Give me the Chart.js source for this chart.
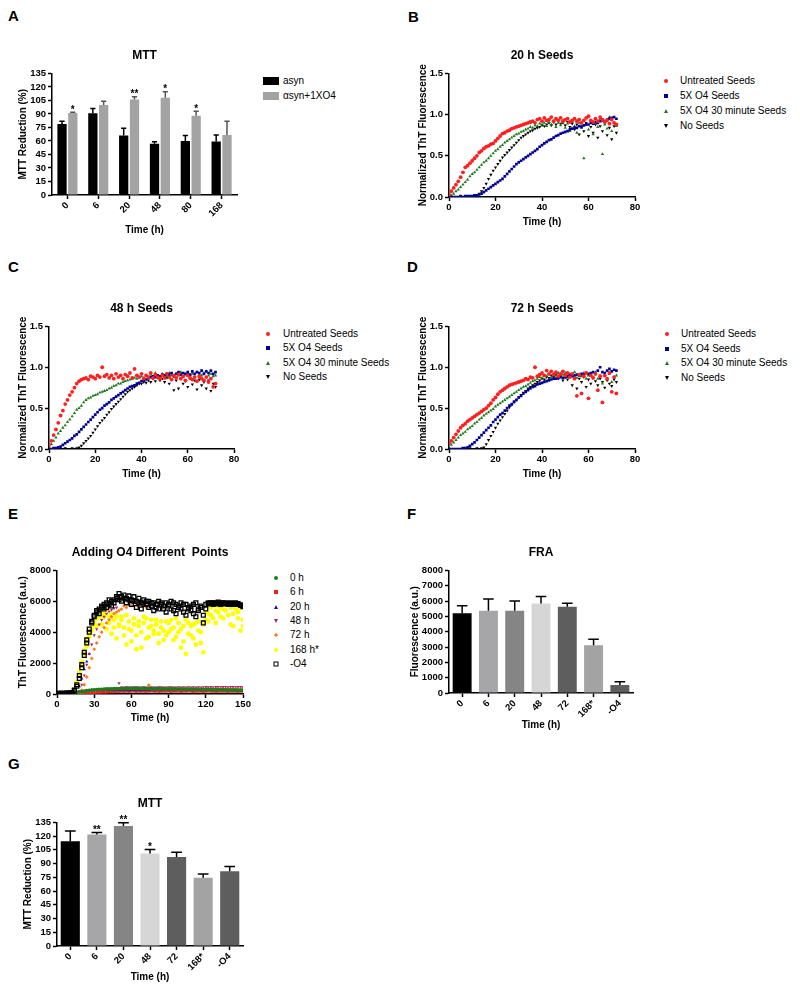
<!DOCTYPE html>
<html>
<head>
<meta charset="utf-8">
<script src="https://cdn.jsdelivr.net/npm/chart.js@4"></script>
<style>
  body { margin: 0; width: 800px; height: 993px; position: relative; background: #fff;
         font-family: "Liberation Sans", Arial, sans-serif; overflow: hidden; }
  canvas { position: absolute; }
  .tag { position: absolute; font-size: 15px; font-weight: bold; line-height: 15px; }
  .lt { position: absolute; font-size: 10px; line-height: 12px; white-space: nowrap; }
  .mk { position: absolute; transform: translate(-50%, -50%); }
  .circle { width: 4px; height: 4px; border-radius: 50%; background: var(--c); }
  .rect { width: 4px; height: 4px; background: var(--c); }
  .tri { width: 0; height: 0; border-left: 2.5px solid transparent; border-right: 2.5px solid transparent; border-bottom: 4px solid var(--c); }
  .itri { width: 0; height: 0; border-left: 2.5px solid transparent; border-right: 2.5px solid transparent; border-top: 4px solid var(--c); }
  .dia { width: 3px; height: 3px; background: var(--c); transform: translate(-50%, -50%) rotate(45deg); }
  .open { width: 3px; height: 3px; border: 1.2px solid var(--c); }
  .bar { width: 16px; height: 8px; background: var(--c); }
</style>
</head>
<body>
<div class="tag" style="left:8px;top:8px">A</div>
<div class="tag" style="left:408px;top:9px">B</div>
<div class="tag" style="left:8px;top:259px">C</div>
<div class="tag" style="left:407px;top:259px">D</div>
<div class="tag" style="left:8px;top:506px">E</div>
<div class="tag" style="left:407px;top:506px">F</div>
<div class="tag" style="left:8px;top:756px">G</div>

<canvas id="chartA" width="235" height="196" style="left:10px;top:44px"></canvas>
<canvas id="chartB" width="235" height="188" style="left:410px;top:44px"></canvas>
<canvas id="chartC" width="234" height="187" style="left:10px;top:297px"></canvas>
<canvas id="chartD" width="235" height="187" style="left:410px;top:297px"></canvas>
<canvas id="chartE" width="243" height="187" style="left:10px;top:541px"></canvas>
<canvas id="chartF" width="239" height="194" style="left:402px;top:541px"></canvas>
<canvas id="chartG" width="241" height="195" style="left:10px;top:792px"></canvas>

<script>
// ---- A : MTT, asyn vs asyn + 1X O4
const aTimes = ['0', '6', '20', '48', '80', '168'];
const aAsyn = [78.7, 90.7, 66, 57, 60, 59.5];
const aAsynErr = [3.3, 5.3, 8, 2, 6, 7];
const aO4 = [91, 100, 106, 108, 88, 66.5];
const aO4Err = [1, 4, 3, 6.5, 5, 15.5];
const aO4Stars = ['*', '', '**', '*', '*', ''];
const aLabels = ['asyn', '\u03b1syn+1XO4'];

// ---- B, C, D : seeding kinetics (normalized ThT)
const seedLabels = ['Untreated Seeds', '5X O4 Seeds', '5X O4 30 minute Seeds', 'No Seeds'];
const hours = [0,1,2,3,4,5,6,7,8,9,10,11,12,13,14,15,16,17,18,19,20,21,22,23,24,25,26,27,28,29,30,31,32,33,34,35,36,37,38,39,40,41,42,43,44,45,46,47,48,49,50,51,52,53,54,55,56,57,58,59,60,61,62,63,64,65,66,67,68,69,70,71,72];

const bUntreated = [0.03,0.07,0.11,0.15,0.19,0.24,0.30,0.36,0.38,0.41, 0.44,0.47,0.50,0.54,0.56,0.59,0.61,0.62,0.64,0.65, 0.68,0.71,0.74,0.77,0.78,0.80,0.81,0.83,0.84,0.85, 0.86,0.87,0.88,0.89,0.90,0.91,0.92,0.90,0.94,0.95, 0.92,0.96,0.93,0.94,0.97,0.92,0.95,0.93,0.96,0.92, 0.94,0.95,0.91,0.93,0.95,0.92,0.94,0.90,0.93,0.96, 0.98,0.93,0.91,0.95,0.92,0.97,0.94,0.91,0.93,0.89, 0.94,0.90,0.88];
const bO4 = [0,0,0,0,0,0.01,0,0.01,0.01,0.01, 0.01,0.02,0.02,0.03,0.04,0.06,0.08,0.10,0.12,0.14, 0.16,0.18,0.20,0.22,0.25,0.28,0.31,0.34,0.37,0.40, 0.42,0.44,0.46,0.48,0.50,0.52,0.54,0.56,0.58,0.61, 0.63,0.65,0.67,0.69,0.70,0.72,0.74,0.75,0.77,0.78, 0.79,0.80,0.82,0.83,0.84,0.84,0.86,0.85,0.87,0.88, 0.88,0.90,0.89,0.91,0.90,0.92,0.93,0.92,0.94,0.95, 0.96,0.97,0.95];
const bO4Short = [0,0.02,0.04,0.07,0.09,0.12,0.15,0.18,0.21,0.25, 0.28,0.30,0.33,0.36,0.39,0.42,0.44,0.47,0.50,0.53, 0.56,0.58,0.61,0.63,0.66,0.68,0.70,0.72,0.74,0.76, 0.77,0.79,0.80,0.82,0.83,0.85,0.84,0.87,0.86,0.89, 0.88,0.90,0.86,0.91,0.88,0.92,0.85,0.90,0.87,0.93, 0.84,0.89,0.80,0.91,0.86,0.78,0.90,0.84,0.47,0.88, 0.82,0.92,0.76,0.89,0.85,0.95,0.52,0.88,0.83,0.97, 0.80,0.90,0.86];
const bNoSeeds = [0,0,0,0,0,0.01,0,0.01,0,0.01, 0.01,0.02,0.02,0.04,0.07,0.11,0.16,0.22,0.27,0.32, 0.36,0.40,0.44,0.48,0.51,0.54,0.57,0.60,0.63,0.66, 0.69,0.72,0.74,0.76,0.78,0.80,0.81,0.83,0.84,0.85, 0.87,0.86,0.88,0.90,0.87,0.91,0.88,0.92,0.89,0.90, 0.87,0.91,0.85,0.89,0.82,0.88,0.76,0.86,0.80,0.90, 0.74,0.85,0.78,0.88,0.72,0.86,0.80,0.90,0.75,0.84, 0.70,0.86,0.78];

const cUntreated = [0.05,0.10,0.17,0.24,0.32,0.41,0.47,0.55,0.60,0.66, 0.70,0.75,0.80,0.83,0.85,0.86,0.87,0.85,0.89,0.88, 0.86,0.90,0.88,1.00,0.89,0.91,0.87,0.90,0.86,0.92, 0.88,0.90,0.86,0.91,0.89,0.93,0.87,0.98,0.90,0.88, 0.92,0.86,0.90,0.88,0.93,0.87,0.91,0.88,0.86,0.90, 0.87,0.92,0.88,0.85,0.90,0.87,0.91,0.86,0.89,0.84, 0.90,0.87,0.85,0.88,0.83,0.89,0.86,0.84,0.88,0.82, 0.86,0.76,0.80];
const cO4 = [0,0,0.01,0.01,0.02,0.03,0.05,0.07,0.09,0.11, 0.13,0.16,0.18,0.21,0.24,0.27,0.30,0.33,0.36,0.39, 0.42,0.45,0.48,0.50,0.53,0.55,0.57,0.60,0.62,0.64, 0.66,0.68,0.70,0.72,0.74,0.76,0.77,0.78,0.80,0.81, 0.83,0.84,0.85,0.87,0.88,0.89,0.88,0.90,0.89,0.91, 0.90,0.92,0.91,0.93,0.90,0.92,0.94,0.91,0.93,0.92, 0.94,0.91,0.95,0.92,0.94,0.93,0.96,0.92,0.95,0.93, 0.96,0.92,0.94];
const cO4Short = [0.02,0.06,0.10,0.14,0.19,0.22,0.26,0.29,0.33,0.36, 0.40,0.44,0.48,0.50,0.53,0.57,0.60,0.62,0.63,0.65, 0.66,0.67,0.69,0.70,0.71,0.72,0.74,0.75,0.77,0.78, 0.80,0.80,0.82,0.83,0.84,0.85,0.86,0.87,0.86,0.88, 0.89,0.87,0.90,0.88,0.91,0.89,0.93,0.90,0.88,0.92, 0.90,0.89,0.93,0.90,0.88,0.92,0.90,0.94,0.89,0.91, 0.93,0.90,0.92,0.88,0.94,0.91,0.90,0.93,0.95,0.90, 0.92,0.89,0.90];
const cNoSeeds = [0,0,0,0,0,0,0,0.01,0,0, 0.01,0,0.01,0.02,0.04,0.07,0.10,0.13,0.16,0.20, 0.24,0.28,0.32,0.35,0.38,0.42,0.45,0.49,0.52,0.55, 0.58,0.61,0.64,0.67,0.70,0.72,0.74,0.76,0.78,0.80, 0.80,0.82,0.81,0.84,0.82,0.86,0.83,0.87,0.84,0.86, 0.82,0.87,0.80,0.85,0.72,0.84,0.74,0.86,0.80,0.83, 0.76,0.86,0.79,0.84,0.73,0.85,0.78,0.82,0.74,0.84, 0.71,0.80,0.76];

const dUntreated = [0.07,0.10,0.14,0.18,0.22,0.26,0.29,0.31,0.34,0.36, 0.38,0.40,0.42,0.44,0.46,0.48,0.50,0.53,0.56,0.60, 0.63,0.67,0.70,0.72,0.74,0.76,0.78,0.79,0.80,0.81, 0.82,0.83,0.84,0.86,0.85,0.88,0.87,1.00,0.89,0.91, 0.93,0.90,0.96,0.92,0.95,0.91,0.94,0.89,0.92,0.95, 0.90,0.93,0.88,0.92,0.86,0.65,0.91,0.68,0.89,0.93, 0.62,0.90,0.87,0.92,0.72,0.89,0.57,0.90,0.86,0.93, 0.70,0.88,0.68];
const dO4 = [0,0,0,0,0,0,0.01,0.01,0.02,0.04, 0.06,0.08,0.11,0.14,0.17,0.20,0.23,0.26,0.29,0.33, 0.36,0.39,0.42,0.44,0.47,0.50,0.53,0.55,0.58,0.60, 0.63,0.65,0.68,0.70,0.72,0.74,0.76,0.77,0.79,0.80, 0.81,0.82,0.83,0.84,0.85,0.86,0.86,0.87,0.88,0.87, 0.88,0.89,0.90,0.89,0.90,0.91,0.90,0.92,0.91,0.93, 0.92,0.93,0.94,0.92,0.96,1.00,0.94,0.93,0.96,0.98, 0.95,0.97,0.96];
const dO4Short = [0.02,0.05,0.08,0.11,0.14,0.17,0.19,0.21,0.24,0.26, 0.28,0.31,0.33,0.36,0.38,0.41,0.43,0.45,0.47,0.49, 0.52,0.54,0.56,0.58,0.60,0.62,0.64,0.66,0.68,0.70, 0.72,0.74,0.76,0.77,0.79,0.81,0.83,0.84,0.86,0.88, 0.87,0.90,0.89,0.91,0.88,0.92,0.90,0.93,0.89,0.91, 0.93,0.88,0.92,0.90,0.94,0.87,0.91,0.89,0.93,0.86, 0.90,0.92,0.88,0.94,0.86,0.90,0.80,0.89,0.85,0.92, 0.82,0.88,0.90];
const dNoSeeds = [0,0,0,0,0,0,0.01,0,0,0.01, 0,0,0.01,0,0.01,0.02,0.06,0.11,0.16,0.21, 0.26,0.31,0.35,0.39,0.43,0.47,0.51,0.54,0.57,0.60, 0.63,0.66,0.69,0.71,0.74,0.76,0.78,0.80,0.82,0.84, 0.86,0.85,0.88,0.87,0.90,0.88,0.91,0.86,0.89,0.84, 0.88,0.85,0.90,0.78,0.87,0.74,0.86,0.82,0.88,0.76, 0.85,0.80,0.87,0.83,0.78,0.86,0.82,0.75,0.84,0.80, 0.77,0.85,0.82];

// ---- E : adding O4 at different points (ThT, a.u.)
const eLabels = ['0 h', '6 h', '20 h', '48 h', '72 h', '168 h*', '-O4'];
const eHours = [0,2,4,6,8,10,12,14,16,18, 20,22,24,26,28,30,32,34,36,38, 40,42,44,46,48,50,52,54,56,58, 60,62,64,66,68,70,72,74,76,78, 80,82,84,86,88,90,92,94,96,98, 100,102,104,106,108,110,112,114,116,118, 120,122,124,126,128,130,132,134,136,138, 140,142,144,146,148,150];
const e0h = [20,25,20,30,25,30,50,80,110,140, 165,190,210,230,250,265,280,295,305,315, 325,330,335,340,345,350,355,350,360,355, 360,350,355,360,350,355,345,350,345,340, 345,340,335,340,330,335,330,325,330,320, 325,320,315,320,310,315,305,310,300,305, 295,300,290,285,290,280,285,275,280,270, 265,270,260,255,250,245];
const e6h = [10,10,10,10,10,10,10,10,20,30, 45,55,65,75,85,95,100,110,115,120, 125,130,135,140,145,150,160,150,170,155, 165,180,150,170,160,175,155,165,180,160, 170,150,175,165,160,180,155,170,165,175, 150,170,160,180,165,155,175,160,170,150, 165,180,160,170,155,175,165,160,170,150, 165,175,160,155,170,160];
const e20h = [20,20,20,20,20,20,20,20,150,500, 1000,1600,2100,2600,280,260,250,270,240,260, 250,240,255,245,260,250,240,255,250,245, 260,250,240,255,245,250,260,245,250,240, 255,250,245,260,250,240,255,245,250,260, 245,250,240,255,250,245,260,250,240,255, 245,250,260,245,250,240,255,250,245,260, 250,240,255,245,250,240];
const e48h = [20,20,20,20,20,20,20,20,20,200, 600,1200,1900,2600,3200,3800,4200,4500,4800,5000, 5200,5350,5450,5550,5600,700,430,420,440,430, 425,440,435,420,430,445,430,425,440,430, 420,435,440,430,425,440,435,420,430,440, 425,435,430,440,420,435,430,445,430,440, 450,445,455,440,450,460,445,450,455,440, 450,460,445,455,450,440];
const e72h = [20,20,20,20,20,20,20,20,20,20, 250,600,1100,1700,2300,2900,3300,3700,4000,4300, 4600,4800,5000,5200,5300,5400,5500,5700,5600,5800, 5700,5900,5750,5650,5900,5750,5600,580,330,320, 340,310,330,320,300,330,320,310,340,320, 300,330,310,320,330,300,320,310,330,320, 310,300,320,330,310,300,320,310,300,320, 310,300,290,310,300,290];
const e168hA = [40,50,40,60,50,60,80,200,600,1200, 1800,2500,3100,3700,4100,4500,4900,5100,5300,5000, 5500,4600,5200,4300,5000,4400,4800,3800,5100,4200, 3400,4500,2900,4700,4000,5000,3600,4300,4800,3900, 4500,3300,4700,4100,3800,4600,4200,3500,4900,4000, 3000,4400,2600,4600,3800,4500,3200,4700,4000,2700, 4800,5200,5600,4900,5400,5700,5000,5500,5800,5100, 5600,4400,5700,5300,4100,4800];
const e168hB = [40,50,40,60,50,70,90,300,800,1400, 2100,2800,3400,3900,4300,4700,4400,5000,4500,5200, 4200,5000,3900,4800,3600,4500,5000,4300,3200,4700, 4100,4900,3800,4400,3000,4600,4900,3700,4400,4100, 4800,3900,4300,3500,4700,4000,4800,4300,3700,4600, 4200,3400,4800,3900,4400,3600,4600,4100,3300,4500, 5300,4700,5100,5700,4600,5300,5600,4900,5400,5800, 4500,5200,5500,4900,5600,4400];
const eNoO4A = [30,40,30,50,40,60,80,200,500,1000, 1700,2500,3300,4000,4600,5000,5300,5500,5700,5800, 5900,5800,6000,6100,6200,6500,6300,6400,6200,6350, 6100,6300,6000,6200,5900,6100,5800,6000,5700,5900, 5600,6000,5800,5500,5900,5700,6000,5400,5800,5600, 5900,5300,5800,5500,5700,5200,5900,5400,5600,4600, 5500,5900,5850,5900,5850,5950,5900,5850,5900,5850, 5900,5850,5800,5850,5750,5700];
const eNoO4B = [30,50,40,40,60,50,90,250,600,1200, 1900,2700,3500,4200,4700,5100,5400,5200,5600,5500, 5600,6100,5700,5900,6300,6100,6000,6200,5900,6100, 5800,6000,5600,5900,5500,5800,6000,5600,5900,5400, 5800,5500,5900,5700,5300,5800,5500,5900,5200,5700, 5500,5800,5100,5600,5400,5800,5000,5500,5700,5100, 5800,5850,5900,5800,5900,5850,5800,5900,5850,5800, 5850,5800,5900,5800,5750,5650];

// ---- F : FRA  /  G : MTT after adding O4
const fgTimes = ['0', '6', '20', '48', '72', '168*', '-O4'];
const fMean = [5200, 5360, 5360, 5840, 5620, 3120, 520];
const fErr = [490, 780, 650, 460, 240, 380, 220];
const gMean = [114.5, 121.8, 131, 101, 97.3, 74.6, 81.6];
const gErr = [11, 2.2, 3.6, 4.4, 5.1, 4.1, 5.1];
const gStars = ['', '**', '**', '*', '', '', ''];

// ------------------------------------------------------------------
Chart.defaults.font.family = '"Liberation Sans", Arial, sans-serif';
Chart.defaults.color = '#000';

const tickFont = { size: 9.5, weight: 'bold' };
const axisTitleFont = { size: 10, weight: 'bold' };
const fgColors = ['#000000', '#a6a6a8', '#858585', '#d6d6d6', '#5e5e5e', '#a3a3a3', '#5e5e5e'];

// fixe la taille des axes pour placer la zone de tracé au pixel près
function fit(prop, size) {
  return scale => {
    scale[prop] = size;
    scale.paddingLeft = 0; scale.paddingRight = 0;
    scale.paddingTop = 0; scale.paddingBottom = 0;
  };
}

const axisLines = {
  grid: { drawOnChartArea: false, tickLength: 4, tickWidth: 1.5, color: '#000', tickColor: '#000' },
  border: { color: '#000', width: 1.5 }
};

function linAxis(min, max, step, title, prop, size, pad, fmt) {
  return {
    type: 'linear', min: min, max: max,
    ticks: { stepSize: step, autoSkip: false, color: '#000', font: tickFont, padding: pad, callback: fmt },
    ...axisLines,
    title: { display: true, text: title, color: '#000', font: axisTitleFont, padding: 0 },
    afterFit: fit(prop, size)
  };
}

function catAxis(size) {
  return {
    type: 'category',
    ticks: { color: '#000', font: tickFont, padding: 1, minRotation: 45, maxRotation: 45, autoSkip: false },
    grid: { ...axisLines.grid, offset: false },
    border: axisLines.border,
    title: { display: true, text: 'Time (h)', color: '#000', font: axisTitleFont, padding: 0 },
    afterFit: fit('height', size)
  };
}

function baseOptions(title, titlePad, pad, x, y) {
  return {
    responsive: false, animation: false, events: [],
    layout: { padding: pad },
    plugins: {
      legend: { display: false },
      tooltip: { enabled: false },
      title: { display: true, fullSize: false, text: title, color: '#000', font: { size: 12, weight: 'bold' },
               padding: { top: 0, bottom: titlePad } }
    },
    scales: { x: x, y: y }
  };
}

// barres d'erreur (vers le haut) + astérisques
const errorBars = {
  id: 'errorBars',
  afterDatasetsDraw(chart) {
    const ctx = chart.ctx, y = chart.scales.y;
    chart.data.datasets.forEach((ds, i) => {
      if (!ds.errors) return;
      chart.getDatasetMeta(i).data.forEach((bar, j) => {
        const top = y.getPixelForValue(ds.data[j] + ds.errors[j]);
        const half = bar.width * 0.28;
        ctx.save();
        ctx.strokeStyle = ds.errorColor || '#000';
        ctx.lineWidth = 1.5;
        ctx.beginPath();
        ctx.moveTo(bar.x, bar.y);
        ctx.lineTo(bar.x, top);
        ctx.moveTo(bar.x - half, top);
        ctx.lineTo(bar.x + half, top);
        ctx.stroke();
        if (ds.stars && ds.stars[j]) {
          ctx.fillStyle = '#000';
          ctx.font = 'bold 10px "Liberation Sans", Arial, sans-serif';
          ctx.textAlign = 'center';
          ctx.textBaseline = 'alphabetic';
          ctx.fillText(ds.stars[j], bar.x, top + 0.5);
        }
        ctx.restore();
      });
    });
  }
};

function pts(xs, ys) {
  const out = [];
  for (let i = 0; i < Math.min(xs.length, ys.length); i++) out.push({ x: xs[i], y: ys[i] });
  return out;
}

function scatterSet(label, xs, ys, color, style, radius, extra) {
  return Object.assign({
    label: label, data: pts(xs, ys), showLine: false,
    pointStyle: style, pointRadius: radius, pointBorderWidth: 0,
    pointBackgroundColor: color, pointBorderColor: color
  }, extra || {});
}

// ---- A
new Chart(document.getElementById('chartA'), {
  type: 'bar',
  data: {
    labels: aTimes,
    datasets: [
      { label: aLabels[0], data: aAsyn, errors: aAsynErr, backgroundColor: '#000000',
        categoryPercentage: 0.7, barPercentage: 0.86 },
      { label: aLabels[1], data: aO4, errors: aO4Err, stars: aO4Stars, errorColor: '#555',
        backgroundColor: '#a3a3a3', categoryPercentage: 0.7, barPercentage: 0.86 }
    ]
  },
  options: baseOptions('MTT', 11, { left: 7, top: 4, right: 8, bottom: 4 },
    catAxis(41),
    linAxis(0, 135, 15, 'MTT Reduction (%)', 'width', 35, 2, v => String(v))),
  plugins: [errorBars]
});

// ---- B, C, D
const seedColors = ['#ff1f1f', '#000096', '#1c7a1c', '#000000'];
function seedChart(id, title, series) {
  const styles = ['circle', 'rect', 'triangle', 'triangle'];
  const rot = [0, 0, 0, 180];
  new Chart(document.getElementById(id), {
    type: 'scatter',
    data: {
      datasets: series.map((ys, k) =>
        scatterSet(seedLabels[k], hours, ys, seedColors[k], styles[k], 1.9, { pointRotation: rot[k] }))
    },
    options: baseOptions(title, 11, { left: 7, top: 4, right: 10, bottom: 4 },
      linAxis(0, 80, 20, 'Time (h)', 'height', 31, 1, v => String(v)),
      linAxis(0, 1.5, 0.5, 'Normalized ThT Fluorescence', 'width', 32, 2, v => v.toFixed(1)))
  });
}
seedChart('chartB', '20 h Seeds', [bUntreated, bO4, bO4Short, bNoSeeds]);
seedChart('chartC', '48 h Seeds', [cUntreated, cO4, cO4Short, cNoSeeds]);
seedChart('chartD', '72 h Seeds', [dUntreated, dO4, dO4Short, dNoSeeds]);

// ---- E
const eColors = ['#1c7d1c', '#ff1f1f', '#1a1a9a', '#b3206c', '#ff7a1a', '#ffff00', '#000000'];
const openSquare = { order: 0, pointBorderWidth: 1.3, pointBackgroundColor: 'rgba(0,0,0,0)' };
new Chart(document.getElementById('chartE'), {
  type: 'scatter',
  data: {
    datasets: [
      scatterSet(eLabels[0], eHours, e0h, eColors[0], 'circle', 1.9, { order: 1 }),
      scatterSet(eLabels[1], eHours, e6h, eColors[1], 'rect', 1.9, { order: 5 }),
      scatterSet(eLabels[2], eHours, e20h, eColors[2], 'triangle', 1.9, { order: 4 }),
      scatterSet(eLabels[3], eHours, e48h, eColors[3], 'triangle', 1.9, { order: 3, pointRotation: 180 }),
      scatterSet(eLabels[4], eHours, e72h, eColors[4], 'rectRot', 1.9, { order: 2 }),
      scatterSet(eLabels[5], eHours, e168hA, eColors[5], 'circle', 2.4, { order: 6 }),
      scatterSet(eLabels[5], eHours, e168hB, eColors[5], 'circle', 2.4, { order: 7 }),
      scatterSet(eLabels[6], eHours, eNoO4A, eColors[6], 'rect', 2.7, openSquare),
      scatterSet(eLabels[6], eHours, eNoO4B, eColors[6], 'rect', 2.7, openSquare)
    ]
  },
  options: baseOptions('Adding O4 Different  Points', 11, { left: 7, top: 4, right: 10, bottom: 4 },
    linAxis(0, 150, 30, 'Time (h)', 'height', 30, 1, v => String(v)),
    linAxis(0, 8000, 2000, 'ThT Fluorescence (a.u.)', 'width', 40, 2, v => String(v)))
});

// ---- F
new Chart(document.getElementById('chartF'), {
  type: 'bar',
  data: {
    labels: fgTimes,
    datasets: [{ label: 'FRA', data: fMean, errors: fErr, backgroundColor: fgColors,
                 categoryPercentage: 0.8, barPercentage: 0.9 }]
  },
  options: baseOptions('FRA', 11, { left: 7, top: 4, right: 8, bottom: 4 },
    catAxis(38),
    linAxis(0, 8000, 1000, 'Fluorescence (a.u.)', 'width', 40, 2, v => String(v))),
  plugins: [errorBars]
});

// ---- G
new Chart(document.getElementById('chartG'), {
  type: 'bar',
  data: {
    labels: fgTimes,
    datasets: [{ label: 'MTT', data: gMean, errors: gErr, stars: gStars, backgroundColor: fgColors,
                 categoryPercentage: 0.8, barPercentage: 0.9 }]
  },
  options: baseOptions('MTT', 12, { left: 12, top: 4, right: 8, bottom: 4 },
    catAxis(37),
    linAxis(0, 135, 15, 'MTT Reduction (%)', 'width', 35, 2, v => String(v))),
  plugins: [errorBars]
});

// ---- légendes (HTML)
function legend(mx, tx, y0, gap, items) {
  items.forEach((it, i) => {
    const cy = y0 + gap * i;
    const m = document.createElement('div');
    m.className = 'mk ' + it.shape;
    m.style.left = mx + 'px';
    m.style.top = cy + 'px';
    m.style.setProperty('--c', it.color);
    document.body.appendChild(m);
    const t = document.createElement('div');
    t.className = 'lt';
    t.textContent = it.label;
    t.style.left = tx + 'px';
    t.style.top = (cy - 6) + 'px';
    document.body.appendChild(t);
  });
}
const seedShapes = ['circle', 'rect', 'tri', 'itri'];
const seedItems = seedLabels.map((l, k) => ({ label: l, color: seedColors[k], shape: seedShapes[k] }));
legend(271, 283, 81, 15, [
  { label: aLabels[0], color: '#000000', shape: 'bar' },
  { label: aLabels[1], color: '#a3a3a3', shape: 'bar' }
]);
legend(666, 680, 81, 15, seedItems);
legend(268, 283, 334, 14.4, seedItems);
legend(667, 681, 334, 14.5, seedItems);
const eShapes = ['circle', 'rect', 'tri', 'itri', 'dia', 'circle', 'open'];
legend(276, 290, 578, 14.3, eLabels.map((l, k) => ({ label: l, color: eColors[k], shape: eShapes[k] })));
</script>
</body>
</html>
